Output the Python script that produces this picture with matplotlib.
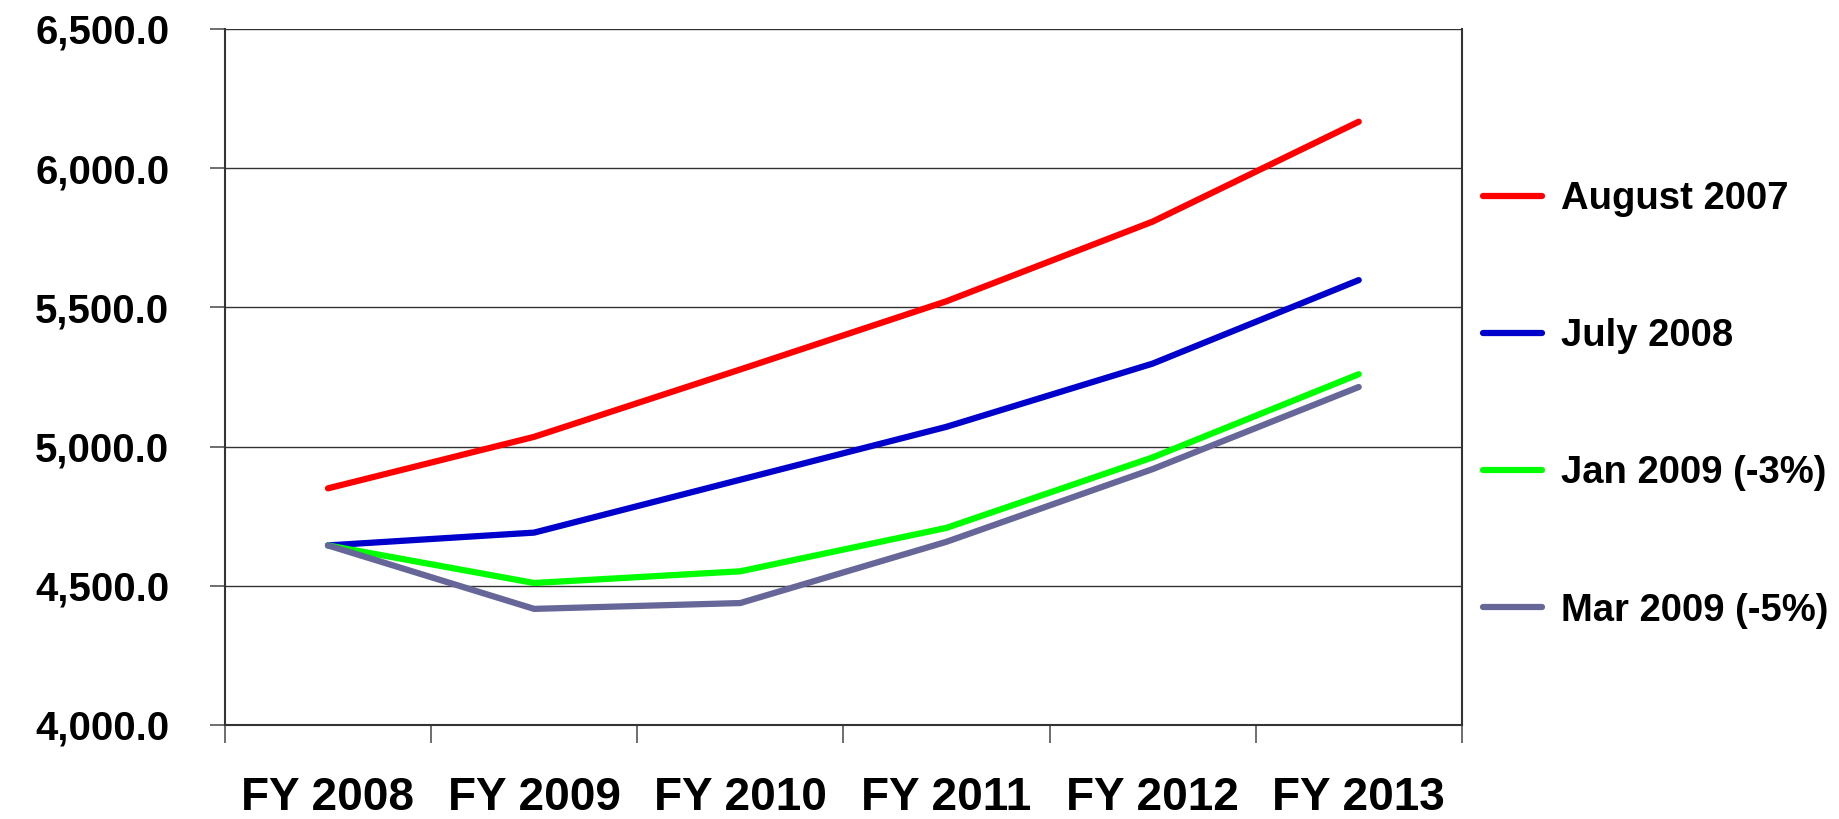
import matplotlib
matplotlib.use("Agg")
import matplotlib.pyplot as plt
from matplotlib.ticker import FuncFormatter, FixedLocator

# budget projections by fiscal year
years = ["FY 2008", "FY 2009", "FY 2010", "FY 2011", "FY 2012", "FY 2013"]
aug_2007 = [4850, 5035, 5277, 5522, 5808, 6167]
jul_2008 = [4645, 4691, 4881, 5071, 5298, 5598]
jan_2009 = [4645, 4510, 4552, 4708, 4961, 5260]
mar_2009 = [4645, 4417, 4438, 4658, 4919, 5214]

series = [
    ("August 2007", aug_2007, "#ff0000"),
    ("July 2008", jul_2008, "#0000cc"),
    ("Jan 2009 (-3%)", jan_2009, "#00ff00"),
    ("Mar 2009 (-5%)", mar_2009, "#666699"),
]

fam = ["Liberation Sans", "DejaVu Sans"]

fig = plt.figure(figsize=(18.39, 8.19), dpi=100)
ax = fig.add_axes([0.1223, 0.1148, 0.6726, 0.8498])

x = list(range(len(years)))
for name, vals, col in series:
    ax.plot(x, vals, color=col, lw=4.5, label=name,
            solid_capstyle="round", solid_joinstyle="round")

ax.set_xlim(-0.5, len(years) - 0.5)
ax.set_ylim(4000, 6500)
ax.set_yticks(range(4000, 6501, 500))
ax.yaxis.set_major_formatter(FuncFormatter(lambda v, p: f"{v:,.1f}"))
ax.grid(axis="y", color="#333333", lw=1)
ax.set_axisbelow(True)

# category labels at centres, tick marks on the boundaries
ax.set_xticks(x)
ax.set_xticklabels(years)
ax.tick_params(axis="x", which="major", length=0, pad=37)
ax.xaxis.set_minor_locator(FixedLocator([i - 0.5 for i in range(len(years) + 1)]))
ax.tick_params(axis="x", which="minor", length=13, width=1.2, color="#555555")
ax.tick_params(axis="y", length=11, width=1.2, color="#555555", pad=29)

for lab in ax.get_xticklabels():
    lab.set_family(fam)
    lab.set_fontweight("bold")
    lab.set_fontsize(33)
for lab in ax.get_yticklabels():
    lab.set_family(fam)
    lab.set_fontweight("bold")
    lab.set_fontsize(29)

for side in ["left", "bottom", "right"]:
    ax.spines[side].set_color("#333333")
    ax.spines[side].set_linewidth(1.5)
ax.spines["top"].set_visible(False)

leg = ax.legend(loc="center left", bbox_to_anchor=(1.0, 0.46), frameon=False,
                prop={"family": fam, "weight": "bold", "size": 27.5},
                handlelength=1.55, handletextpad=0.5, labelspacing=2.65,
                borderaxespad=0.15)

fig.savefig("out.png", dpi=100, facecolor="white")
